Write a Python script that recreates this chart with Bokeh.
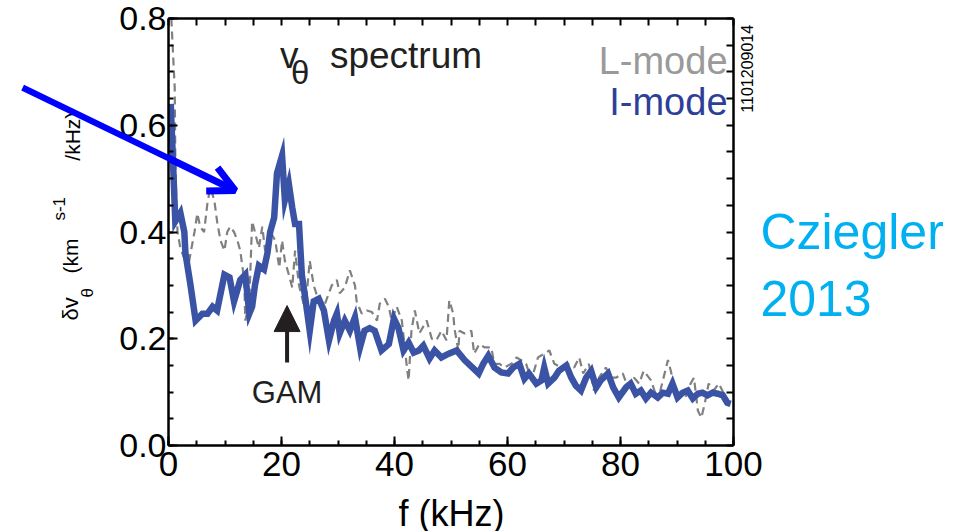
import math
from bokeh.plotting import figure
from bokeh.models import (ColumnDataSource, LinearAxis, FixedTicker, Label, Arrow,
                          NormalHead, OpenHead, Range1d, NumeralTickFormatter)
from bokeh.embed import file_html
from bokeh.resources import INLINE

# ---------------- data ----------------
imode_f = [0.4, 1.2, 2.1, 2.8, 3.0, 3.9, 4.8, 6.0, 6.9, 7.8, 8.6, 9.9, 10.8, 11.6, 12.7,
           13.6, 14.3, 14.8, 15.3, 16.0, 16.9, 17.5, 18.0, 18.7, 19.2, 20.1, 20.6, 21.3,
           21.9, 22.4, 23.1, 23.6, 24.2, 25.0, 25.7, 26.6, 27.5, 28.4, 29.3, 29.8, 30.3,
           31.2, 32.1, 33.0, 33.9, 34.7, 35.6, 36.5, 37.7, 39.0, 39.9, 40.7, 41.6, 42.5,
           43.4, 44.3, 45.1, 46.2, 47.1, 48.3, 49.6, 51.0, 52.4, 54.0, 54.9, 55.7, 56.6,
           57.7, 58.9, 60.1, 61.0, 62.1, 63.0, 63.8, 65.1, 66.0, 66.5, 67.2, 68.3, 69.1,
           70.4, 71.3, 72.1, 73.0, 73.9, 74.8, 75.7, 76.5, 77.8, 78.7, 79.7, 81.0, 81.8,
           82.7, 83.6, 84.5, 85.4, 86.6, 87.5, 88.4, 89.2, 90.1, 91.0, 91.9, 92.8, 93.7,
           94.5, 95.4, 96.3, 97.2, 98.1, 98.9, 99.5]
imode_v = [0.64, 0.42, 0.436, 0.40, 0.36, 0.30, 0.234, 0.247, 0.247, 0.26, 0.253, 0.32,
           0.315, 0.27, 0.31, 0.32, 0.247, 0.26, 0.30, 0.337, 0.33, 0.36, 0.40, 0.427,
           0.51, 0.543, 0.46, 0.49, 0.446, 0.415, 0.415, 0.32, 0.277, 0.215, 0.27, 0.275,
           0.253, 0.197, 0.234, 0.247, 0.21, 0.234, 0.215, 0.24, 0.184, 0.215, 0.22,
           0.215, 0.178, 0.19, 0.238, 0.22, 0.178, 0.193, 0.174, 0.178, 0.187, 0.163,
           0.178, 0.165, 0.172, 0.178, 0.16, 0.144, 0.135, 0.153, 0.168, 0.146, 0.137,
           0.135, 0.146, 0.153, 0.125, 0.135, 0.116, 0.122, 0.146, 0.116, 0.127, 0.14,
           0.15, 0.127, 0.112, 0.103, 0.127, 0.14, 0.109, 0.122, 0.135, 0.109, 0.09,
           0.109, 0.116, 0.097, 0.103, 0.088, 0.099, 0.09, 0.099, 0.097, 0.116, 0.09,
           0.099, 0.103, 0.088, 0.097, 0.099, 0.094, 0.099, 0.097, 0.094, 0.08, 0.078]

lmode_f = [0.5, 1.1, 1.2, 1.4, 1.6, 2.1, 2.8, 3.4, 3.9, 4.6, 5.1, 5.6, 6.3, 6.9, 7.4, 8.1,
           8.6, 9.2, 9.9, 10.4, 10.9, 11.6, 12.2, 12.7, 13.4, 13.6, 14.3, 14.8, 15.3, 16.0,
           16.6, 17.1, 18.0, 18.9, 19.6, 20.1, 20.6, 21.3, 21.9, 22.4, 23.1, 24.2, 25.0,
           25.7, 26.6, 27.5, 28.9, 29.8, 30.3, 31.2, 32.1, 33.0, 33.3, 34.2, 35.1, 36.0,
           36.9, 37.4, 38.3, 39.0, 39.5, 40.4, 41.3, 42.2, 42.5, 43.0, 43.6, 44.4, 45.7,
           46.6, 47.4, 48.3, 49.2, 49.7, 50.4, 50.6, 51.3, 51.5, 52.4, 53.6, 54.1, 55.0,
           55.9, 57.1, 57.7, 58.6, 59.4, 60.7, 61.6, 62.4, 63.3, 64.2, 65.4, 66.5, 67.4,
           68.3, 69.5, 70.7, 71.8, 72.7, 73.4, 74.4, 75.3, 76.2, 77.4, 78.3, 79.2, 80.4,
           81.3, 82.4, 83.3, 84.1, 85.4, 86.6, 87.5, 88.4, 88.9, 89.8, 90.7, 91.5, 92.4,
           93.0, 93.7, 94.3, 94.9, 95.6, 96.5, 97.4, 98.3, 99.3]
lmode_v = [0.80, 0.67, 0.55, 0.45, 0.40, 0.37, 0.35, 0.33, 0.36, 0.40, 0.435, 0.41, 0.40,
           0.455, 0.483, 0.46, 0.42, 0.384, 0.365, 0.40, 0.41, 0.40, 0.384, 0.365, 0.31,
           0.234, 0.27, 0.42, 0.40, 0.37, 0.41, 0.365, 0.40, 0.384, 0.333, 0.384, 0.346,
           0.32, 0.296, 0.365, 0.30, 0.253, 0.346, 0.30, 0.27, 0.26, 0.30, 0.31, 0.285,
           0.296, 0.328, 0.30, 0.27, 0.247, 0.253, 0.25, 0.234, 0.266, 0.275, 0.26, 0.234,
           0.26, 0.234, 0.146, 0.122, 0.215, 0.253, 0.21, 0.234, 0.20, 0.197, 0.215,
           0.197, 0.272, 0.247, 0.22, 0.178, 0.215, 0.21, 0.215, 0.172, 0.19, 0.184,
           0.184, 0.153, 0.153, 0.146, 0.153, 0.165, 0.16, 0.153, 0.122, 0.165, 0.172,
           0.178, 0.153, 0.146, 0.153, 0.146, 0.165, 0.135, 0.153, 0.103, 0.127, 0.146,
           0.127, 0.127, 0.135, 0.109, 0.127, 0.116, 0.14, 0.122, 0.084, 0.122, 0.16,
           0.14, 0.097, 0.09, 0.09, 0.116, 0.127, 0.065, 0.052, 0.078, 0.116, 0.103,
           0.116, 0.097, 0.08]

x_major = [0, 20, 40, 60, 80, 100]
x_minor = [0, 5, 10, 15, 20, 25, 30, 35, 40, 45, 50, 55, 60, 65, 70, 75, 80, 85, 90, 95, 100]
y_major = [0.0, 0.2, 0.4, 0.6, 0.8]
y_minor = [0.0, 0.05, 0.1, 0.15, 0.2, 0.25, 0.3, 0.35, 0.4, 0.45, 0.5, 0.55, 0.6, 0.65,
           0.7, 0.75, 0.8]

FONT = "Liberation Sans"
DARK = "#231f20"

# frame geometry (pixels) used to place annotations
X0, Y0, SX, SY = 166.0, 445.0, 5.67, 534.0


def dx(px):
    return (px - X0) / SX


def dy(py):
    return (Y0 - py) / SY


p = figure(width=957, height=531, output_backend="svg", toolbar_location=None,
           x_range=Range1d(0, 100), y_range=Range1d(0, 0.8),
           min_border_left=166, min_border_right=224, min_border_top=18,
           min_border_bottom=86, x_axis_type=None, y_axis_type=None)
p.outline_line_color = None
p.grid.visible = False
p.background_fill_color = "white"
p.border_fill_color = "white"

xt = FixedTicker(ticks=x_major, minor_ticks=x_minor)
yt = FixedTicker(ticks=y_major, minor_ticks=y_minor)


def style_axis(ax, size=None):
    ax.axis_line_width = 2.5
    ax.axis_line_color = "black"
    ax.major_tick_line_width = 2
    ax.minor_tick_line_width = 2
    ax.major_tick_in = 9
    ax.major_tick_out = 0
    ax.minor_tick_in = 5
    ax.minor_tick_out = 0
    ax.major_tick_line_color = "black"
    ax.minor_tick_line_color = "black"
    if size:
        ax.major_label_text_font = FONT
        ax.major_label_text_font_size = size
        ax.major_label_text_color = "black"


bx = LinearAxis(ticker=xt)
style_axis(bx, "35px")
bx.major_label_standoff = 6
p.add_layout(bx, "below")

ly = LinearAxis(ticker=yt, formatter=NumeralTickFormatter(format="0.0"))
style_axis(ly, "34px")
ly.major_label_standoff = 2
p.add_layout(ly, "left")

tx = LinearAxis(ticker=FixedTicker(ticks=[], minor_ticks=x_minor))
style_axis(tx)
tx.minor_tick_in = 7
p.add_layout(tx, "above")

ry = LinearAxis(ticker=FixedTicker(ticks=[], minor_ticks=y_minor))
style_axis(ry)
ry.minor_tick_in = 7
p.add_layout(ry, "right")

src_l = ColumnDataSource(dict(f=lmode_f, v=lmode_v))
src_i = ColumnDataSource(dict(f=imode_f, v=imode_v))
p.line("f", "v", source=src_l, line_color="#808080", line_width=2.2, line_dash="8 5")
p.line("f", "v", source=src_i, line_color="#3b53a4", line_width=6.5, line_join="miter")


def lab(px, py, text, size, color=DARK, align="left", angle=0.0, place="center"):
    # (px, py): anchor in pixels; vertical anchor = middle of the text line
    p.add_layout(Label(x=dx(px), y=dy(py), text=text, text_font=FONT,
                       text_font_size="%dpx" % size, text_color=color,
                       text_align=align, text_baseline="middle", angle=angle), place)


# title  (baseline 68 -> middle = 68 - 0.3465*size)
lab(278, 68 - 0.3465 * 37, "v", 37)
lab(289, 72, "θ", 33)
lab(328, 68 - 0.3465 * 37, "spectrum", 37)

# legend texts
lab(727, 73 - 0.3465 * 38, "L-mode", 38, color="#9a9a9a", align="right")
lab(727, 115 - 0.3465 * 38, "I-mode", 38, color="#2e3f97", align="right")

# shot number (right margin)
lab(746.5, 112, "1101209014", 16, color="black", angle=math.pi / 2, place="right")

# citation (right margin, two lines in one label)
lab(760, (252 + 312) / 2 - 0.3465 * 50, "Cziegler\n2013", 50, color="#00b0f0", place="right")

# x axis label (bottom margin)
lab(450, 526 - 0.3465 * 36, "f (kHz)", 36, color="black", align="center", place="below")

# y axis label pieces (rotated, left margin)
R = math.pi / 2
lab(68, 320, "δv", 22, color="black", angle=R, place="left")
lab(85, 297, "θ", 17, color="black", angle=R, place="left")
lab(68, 273, "(km", 21, color="black", angle=R, place="left")
lab(57, 220, "s-1", 17, color="black", angle=R, place="left")
lab(70, 160, "/kHz)", 21, color="black", angle=R, place="left")

# GAM marker
p.add_layout(Arrow(x_start=dx(285), y_start=dy(362), x_end=dx(285), y_end=dy(305),
                   line_color=DARK, line_width=4,
                   end=NormalHead(size=26, fill_color=DARK, line_color=DARK)))
lab(285, 403 - 0.3465 * 31, "GAM", 31, align="center")

# blue annotation arrow: head part inside the frame
tail = (20.0, 87.0)
tip = (233.0, 190.0)
p.add_layout(Arrow(x_start=dx(tail[0]), y_start=dy(tail[1]), x_end=dx(tip[0]), y_end=dy(tip[1]),
                   line_color="#0000ff", line_width=7,
                   end=OpenHead(size=26, line_color="#0000ff", line_width=7)))
# tail part in the left margin: a tall filled label box, turned onto the arrow's direction
cut = 172.0
t = (cut - tail[0]) / (tip[0] - tail[0])
end_pt = (cut, tail[1] + t * (tip[1] - tail[1]))
seg_len = math.hypot(end_pt[0] - tail[0], end_pt[1] - tail[1])
mid_pt = ((tail[0] + end_pt[0]) / 2, (tail[1] + end_pt[1]) / 2)
ang = -math.atan2(tip[1] - tail[1], tip[0] - tail[0])
p.add_layout(Label(x=dx(mid_pt[0]), y=dy(mid_pt[1]), text="\u00a0", text_font_size="1px",
                   text_align="center", text_baseline="middle", angle=ang + math.pi / 2,
                   padding=(3, round(seg_len / 2)), background_fill_color="#0000ff",
                   background_fill_alpha=1.0), "left")

open("out.html", "w").write(file_html(p, INLINE))
